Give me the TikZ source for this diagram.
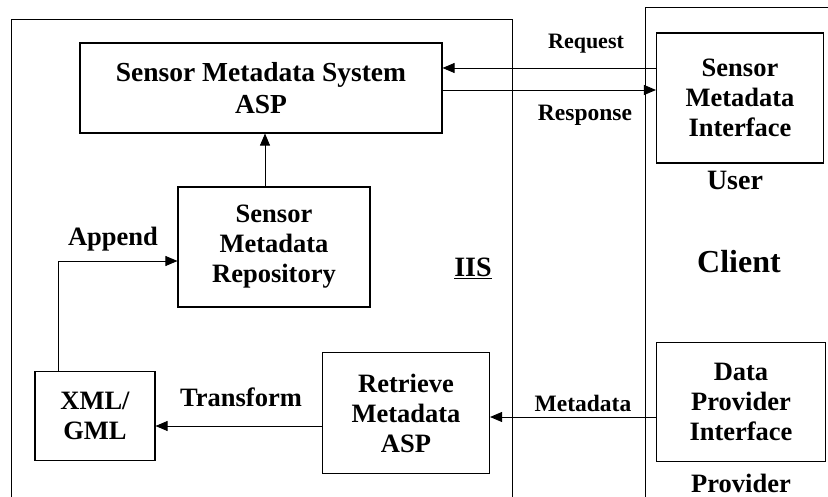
\documentclass[tikz,border=0pt]{standalone}
\usepackage{fontspec}
\setmainfont{Liberation Serif}
\usetikzlibrary{arrows.meta}
\begin{document}
\begin{tikzpicture}[x=1pt,y=-1pt,
  box/.style={draw,line width=1.1pt,align=center,font=\fontsize{26.5}{30}\selectfont\bfseries,inner sep=0pt},
  lbl/.style={font=\fontsize{26.5}{30}\selectfont\bfseries,inner sep=0pt},
  slbl/.style={font=\fontsize{23.5}{26}\selectfont\bfseries,inner sep=0pt},
  conn/.style={line width=0.9pt,-{Triangle[length=12pt,width=10pt]}}]
\useasboundingbox (0,0) rectangle (828,497);
\clip (0,0) rectangle (828,497);
% outer frames
\draw[line width=1pt] (11,20) rectangle (512,500);
\draw[line width=1pt] (645,8) rectangle (835,510);
% boxes
\node[box,minimum width=362pt,minimum height=90pt,font=\fontsize{27.5}{32}\selectfont\bfseries] (sms) at (261,88) {Sensor Metadata System\\ASP};
\node[box,minimum width=192pt,minimum height=120pt] (smr) at (274,247) {Sensor\\Metadata\\Repository};
\node[box,minimum width=120pt,minimum height=89pt] (xml) at (95,416) {XML/\\GML};
\node[box,minimum width=167pt,minimum height=121pt] (rma) at (406,413) {Retrieve\\Metadata\\ASP};
\node[box,minimum width=167pt,minimum height=130pt] (smi) at (740,98) {Sensor\\Metadata\\Interface};
\node[box,minimum width=169pt,minimum height=119pt] (dpi) at (741,402) {Data\\Provider\\Interface};
% labels
\node[font=\fontsize{28}{30}\selectfont\bfseries,inner sep=0pt] (user) at (735,180) {User};
\node[lbl,anchor=base] (prov) at (741,492) {Provider};
\node[font=\fontsize{32}{36}\selectfont\bfseries,inner sep=0pt] (client) at (739,262) {Client};
\node[font=\fontsize{28}{32}\selectfont\bfseries,inner sep=0pt] (iis) at (473,268) {\underline{IIS}};
\node[font=\fontsize{22}{26}\selectfont\bfseries,inner sep=0pt] (req) at (586,44) {Request};
\node[slbl] (resp) at (585,115) {Response};
\node[slbl] (meta) at (583,403) {Metadata};
\node[lbl] (app) at (113,239) {Append};
\node[lbl] (trans) at (241,397) {Transform};
% connectors
\draw[conn] (smr.north -| 265,0) -- (sms.south -| 265,0);
\draw[conn] (smi.west |- 0,68) -- (sms.east |- 0,68);
\draw[conn] (sms.east |- 0,90) -- (smi.west |- 0,90);
\draw[conn] (dpi.west |- 0,417) -- (rma.east |- 0,417);
\draw[conn] (rma.west |- 0,426) -- (xml.east |- 0,426);
\draw[conn] (xml.north -| 58,0) |- (smr.west |- 0,261);
\end{tikzpicture}
\end{document}
